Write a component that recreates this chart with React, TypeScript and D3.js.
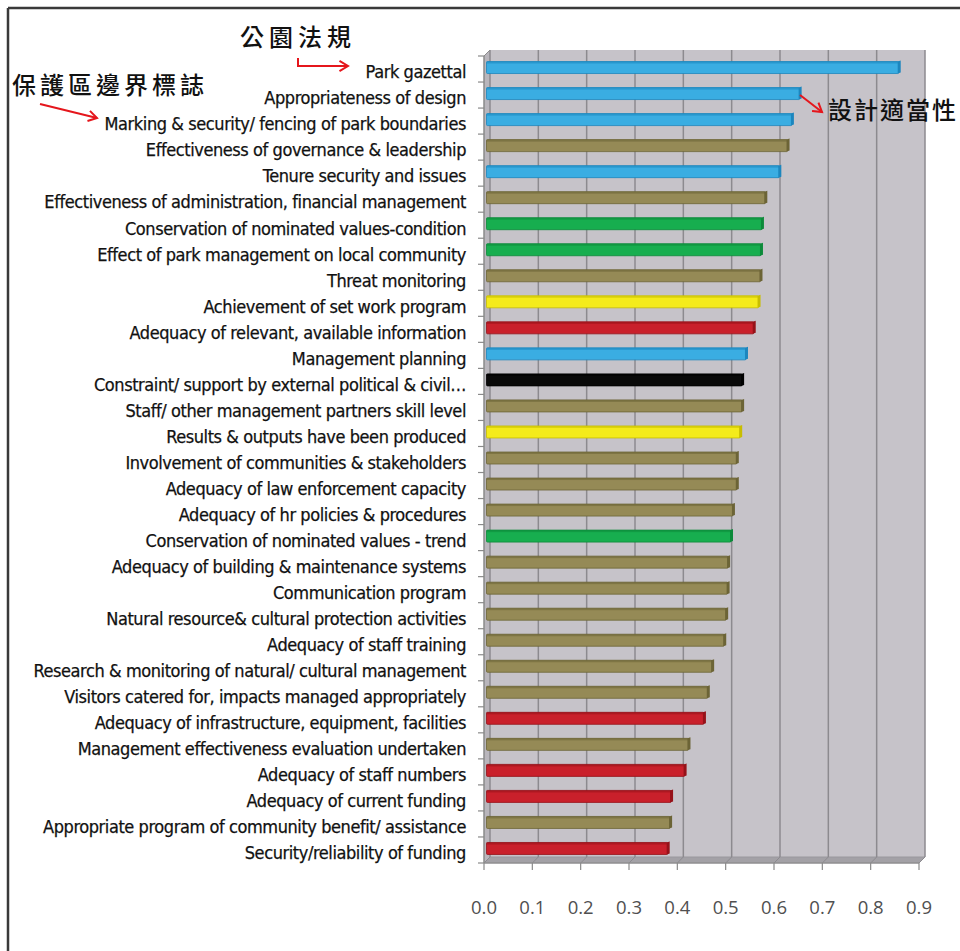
import React from "react";
import * as d3 from "d3";

const categories: string[] = [
  "Park gazettal",
  "Appropriateness of design",
  "Marking & security/ fencing of park boundaries",
  "Effectiveness of governance & leadership",
  "Tenure security and issues",
  "Effectiveness of administration, financial management",
  "Conservation of nominated values-condition",
  "Effect of park management on local community",
  "Threat monitoring",
  "Achievement of set work program",
  "Adequacy of relevant, available information",
  "Management planning",
  "Constraint/ support by external political & civil…",
  "Staff/ other management partners skill level",
  "Results & outputs have been produced",
  "Involvement of communities & stakeholders",
  "Adequacy of law enforcement capacity",
  "Adequacy of hr policies & procedures",
  "Conservation of nominated values - trend",
  "Adequacy of building & maintenance systems",
  "Communication program",
  "Natural resource& cultural protection activities",
  "Adequacy of staff training",
  "Research & monitoring of natural/ cultural management",
  "Visitors catered for, impacts managed appropriately",
  "Adequacy of infrastructure, equipment, facilities",
  "Management effectiveness evaluation undertaken",
  "Adequacy of staff numbers",
  "Adequacy of current funding",
  "Appropriate program of community benefit/ assistance",
  "Security/reliability of funding",
];

const values: number[] = [
  0.857, 0.652, 0.636, 0.627, 0.61, 0.581, 0.574, 0.572, 0.571, 0.567, 0.557,
  0.541, 0.533, 0.533, 0.529, 0.522, 0.522, 0.514, 0.51, 0.504, 0.503, 0.5,
  0.496, 0.471, 0.462, 0.454, 0.422, 0.414, 0.386, 0.384, 0.379,
];

const groups: string[] = [
  "planning", "planning", "planning", "process", "planning", "process",
  "outcomes", "outcomes", "process", "outputs", "inputs", "planning",
  "context", "process", "outputs", "process", "process", "process",
  "outcomes", "process", "process", "process", "process", "process",
  "process", "inputs", "process", "inputs", "inputs", "process", "inputs",
];

const groupNames = ["planning", "process", "outcomes", "outputs", "inputs", "context"];
const groupFill = ["#3AADE2", "#958A56", "#17AE4F", "#F4EB1B", "#C9202B", "#0A0A0A"];
const groupEdge = ["#1C86BE", "#6C6436", "#0C8A3A", "#C8BE00", "#961219", "#000000"];

const xTicks: number[] = [0, 0.1, 0.2, 0.3, 0.4, 0.5, 0.6, 0.7, 0.8, 0.9];

const annotations = [
  { text: "公園法規", x: 240, y: 46, spacing: 5 },
  { text: "保護區邊界標誌", x: 12, y: 94, spacing: 4 },
  { text: "設計適當性", x: 828, y: 119, spacing: 2 },
];

const arrows: [number, number][][] = [
  [[298, 58], [298, 66], [348, 66]],
  [[40, 104], [97, 118]],
  [[800, 95], [822, 112]],
];

function arrowHead(pts: [number, number][]) {
  const [x1, y1] = pts[pts.length - 2];
  const [x2, y2] = pts[pts.length - 1];
  const a = Math.atan2(y2 - y1, x2 - x1);
  const L = 10;
  const s = 0.55;
  return [
    [x2 - L * Math.cos(a - s), y2 - L * Math.sin(a - s)],
    [x2, y2],
    [x2 - L * Math.cos(a + s), y2 - L * Math.sin(a + s)],
  ];
}

export default function App() {
  const W = 960;
  const H = 951;
  const dx = 6;
  const dy = -6;
  const x = d3.scaleLinear().domain([0, 0.9]).range([484, 919]);
  const y = d3.scaleBand<string>().domain(categories).range([56, 863]);
  const color = d3.scaleOrdinal<string, string>().domain(groupNames).range(groupFill);
  const edge = d3.scaleOrdinal<string, string>().domain(groupNames).range(groupEdge);
  const yTop = 56;
  const yBot = 863;
  const line = d3.line();

  const barH = 12;
  const bdx = 2.5;
  const bdy = -2.5;

  const boundaries = d3.range(categories.length + 1).map((i) => yTop + i * y.step());

  return (
    <svg
      width={W}
      height={H}
      style={{ position: "absolute", left: 0, top: 0, background: "#fff" }}
    >
      {/* frame */}
      <line x1={8} y1={8} x2={W} y2={8} stroke="#3a3a3a" strokeWidth={2.5} />
      <line x1={8} y1={8} x2={8} y2={H} stroke="#3a3a3a" strokeWidth={2.5} />

      {/* back wall */}
      <rect
        x={x(0) + dx}
        y={yTop + dy}
        width={x(0.9) - x(0)}
        height={yBot - yTop}
        fill="#C6C3C9"
      />
      {/* left side wall */}
      <path
        d={line([
          [x(0), yTop],
          [x(0) + dx, yTop + dy],
          [x(0) + dx, yBot + dy],
          [x(0), yBot],
        ]) + "Z"}
        fill="#B9B6BC"
      />
      {/* floor */}
      <path
        d={line([
          [x(0), yBot],
          [x(0) + dx, yBot + dy],
          [x(0.9) + dx, yBot + dy],
          [x(0.9), yBot],
        ]) + "Z"}
        fill="#A3A1A6"
        stroke="#9a989d"
        strokeWidth={1}
      />
      {/* gridlines */}
      {xTicks.map((t) => (
        <g key={"g" + t}>
          <line
            x1={x(t) + dx}
            x2={x(t) + dx}
            y1={yTop + dy}
            y2={yBot + dy}
            stroke="#8C8A8F"
            strokeWidth={1.5}
          />
          <line
            x1={x(t) + dx}
            x2={x(t)}
            y1={yBot + dy}
            y2={yBot}
            stroke="#8C8A8F"
            strokeWidth={1}
          />
        </g>
      ))}
      {/* left axis */}
      <line x1={x(0)} x2={x(0)} y1={yTop} y2={yBot} stroke="#8a8a8a" strokeWidth={1.5} />
      <line x1={x(0)} x2={x(0) + dx} y1={yTop} y2={yTop + dy} stroke="#8a8a8a" strokeWidth={1} />
      {boundaries.map((b, i) => (
        <line key={"yt" + i} x1={x(0) - 6} x2={x(0)} y1={b} y2={b} stroke="#8a8a8a" strokeWidth={1.2} />
      ))}
      {/* bottom axis */}
      <line x1={x(0)} x2={x(0.9)} y1={yBot} y2={yBot} stroke="#8a8a8a" strokeWidth={1.2} />
      {xTicks.map((t) => (
        <g key={"xt" + t}>
          <line x1={x(t)} x2={x(t)} y1={yBot} y2={yBot + 7} stroke="#8a8a8a" strokeWidth={1.2} />
          <text
            x={x(t)}
            y={914}
            textAnchor="middle"
            fontFamily="'Open Sans', 'Liberation Sans', sans-serif"
            fontSize={18.5}
            fill="#505050"
          >
            {t.toFixed(1)}
          </text>
        </g>
      ))}

      {/* bars */}
      {categories.map((c, i) => {
        const g = groups[i];
        const cy = (y(c) as number) + y.bandwidth() / 2 + bdy + 1;
        const x0 = x(0) + bdx;
        const x1 = x(values[i]) + bdx;
        const top = cy - barH / 2;
        return (
          <g key={"b" + i}>
            <rect
              x={x0}
              y={top}
              width={x1 - x0 - 2}
              height={barH}
              fill={color(g)}
              stroke={edge(g)}
              strokeWidth={0.8}
              rx={1}
            />
            <rect x={x0} y={top} width={x1 - x0 - 2} height={2} fill={edge(g)} opacity={0.55} />
            <path
              d={line([
                [x1 - 3, top],
                [x1, top - 1],
                [x1, top + barH - 1],
                [x1 - 3, top + barH],
              ]) + "Z"}
              fill={edge(g)}
            />
          </g>
        );
      })}

      {/* category labels */}
      {categories.map((c, i) => (
        <text
          key={"l" + i}
          x={466}
          y={(y(c) as number) + y.bandwidth() / 2 + 3}
          dy="0.35em"
          textAnchor="end"
          fontFamily="'Liberation Sans Narrow', 'Arial Narrow', 'DejaVu Sans Condensed', sans-serif"
          fontSize={18}
          fill="#111"
          stroke="#111"
          strokeWidth={0.25}
          letterSpacing={-0.42}
        >
          {c}
        </text>
      ))}

      {/* annotations */}
      {arrows.map((pts, i) => (
        <g key={"a" + i} fill="none" stroke="#E5161C" strokeWidth={2}>
          <path d={line(pts) || ""} />
          <path d={line(arrowHead(pts) as [number, number][]) || ""} />
        </g>
      ))}
      {annotations.map((a, i) => (
        <text
          key={"t" + i}
          x={a.x}
          y={a.y}
          fontFamily="'Noto Sans CJK TC', 'Noto Sans CJK SC', sans-serif"
          fontSize={24}
          fontWeight={500}
          letterSpacing={a.spacing}
          fill="#111"
        >
          {a.text}
        </text>
      ))}
    </svg>
  );
}
